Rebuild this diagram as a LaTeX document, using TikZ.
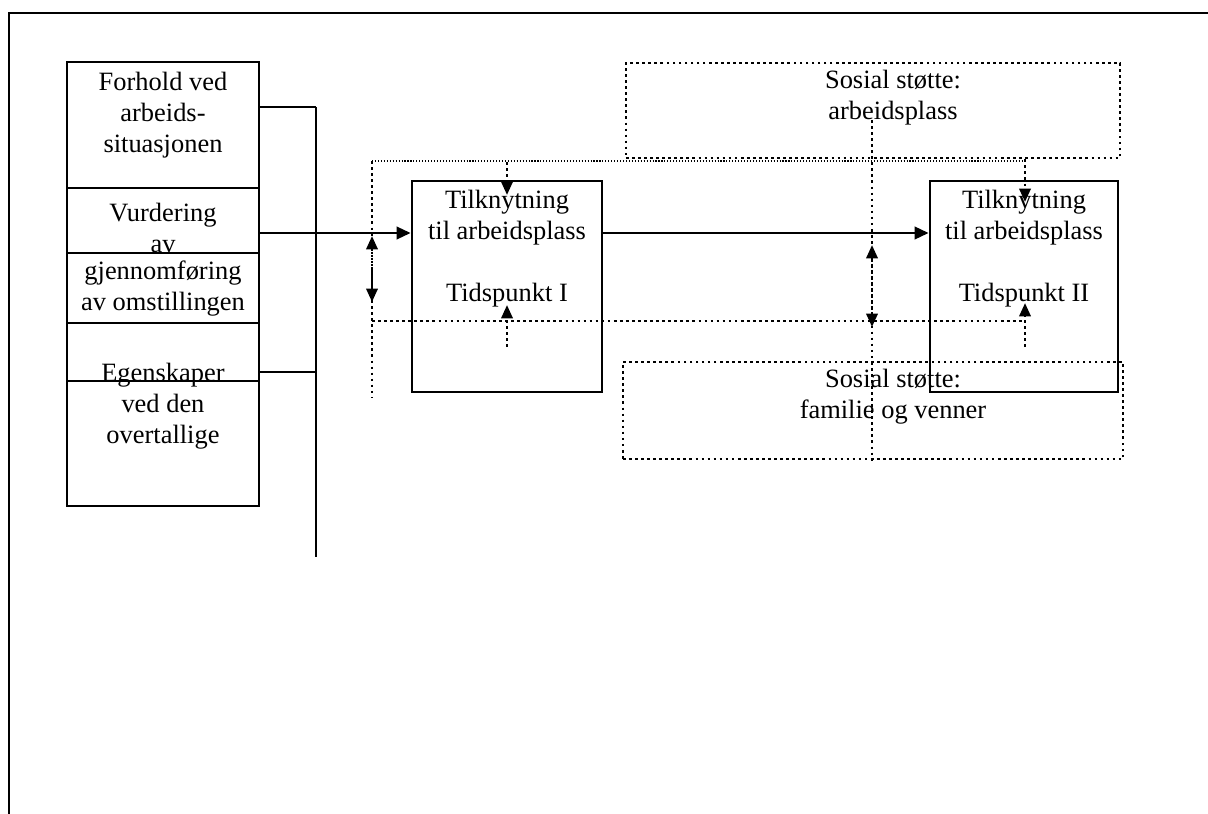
\documentclass[tikz,border=0pt]{standalone}
\usepackage{fontspec}
\setmainfont{Liberation Serif}
\usetikzlibrary{arrows.meta,positioning,calc}

\tikzset{
  solidbox/.style={draw, line width=2pt, inner sep=0pt},
  dotbox/.style={draw, line width=1.9pt, dash pattern=on 1.9pt off 2.4pt, inner sep=0pt},
  txt/.style={align=center, inner sep=0pt, font=\fontsize{18.8}{22}\selectfont},
  thinline/.style={line width=1.1pt},
  dotline/.style={line width=1.9pt, dash pattern=on 1.9pt off 2.4pt},
  finedots/.style={line width=0.8pt, dash pattern=on 0.8pt off 1.3pt},
  mainarrow/.style={line width=1.6pt, -{Triangle[length=10pt,width=9pt]}},
  dottip/.style={-{Triangle[length=9.5pt,width=8pt]}},
  dottips/.style={{Triangle[length=9.5pt,width=8pt]}-{Triangle[length=9.5pt,width=8pt]}}
}

\begin{document}
\begin{tikzpicture}[x=0.025cm, y=-0.025cm]
    \useasboundingbox (0,0) rectangle (1208,814);

    % Frame
    \draw[line width=2pt] (9,814) -- (9,13) -- (1208,13);

    % Left column
    \node[solidbox, minimum width=4.8cm, minimum height=3.15cm]  (forhold) at (163,125) {};
    \node[solidbox, minimum width=4.8cm, minimum height=1.625cm] (vurd)    at (163,220.5) {};
    \node[solidbox, minimum width=4.8cm, minimum height=1.75cm]  (gjenn)   at (163,288) {};
    \node[solidbox, minimum width=4.8cm, minimum height=1.45cm]  (egenA)   at (163,352) {};
    \node[solidbox, minimum width=4.8cm, minimum height=3.125cm] (egenB)   at (163,443.5) {};

    \node[txt] (forholdtxt) at (163,115) {Forhold ved\\arbeids-\\situasjonen};
    \node[txt] (vurdtxt)    at (163,228) {Vurdering\\av};
    \node[txt] (gjenntxt)   at (163,289) {gjennomføring\\av omstillingen};
    \node[txt] (egentxt)    at (163,406) {Egenskaper\\ved den\\overtallige};

    % Attachment boxes
    \node[solidbox, minimum width=4.75cm, minimum height=5.275cm] (tid1) at (507,286.5) {};
    \node[solidbox, minimum width=4.7cm,  minimum height=5.275cm] (tid2) at (1024,286.5) {};
    \node[txt] (tid1txt) at (507,249)  {Tilknytning\\til arbeidsplass\\[22pt]Tidspunkt I};
    \node[txt] (tid2txt) at (1024,249) {Tilknytning\\til arbeidsplass\\[22pt]Tidspunkt II};

    % Social support boxes
    \node[dotbox, minimum width=12.35cm, minimum height=2.375cm] (sosarb) at (873,110.5) {};
    \node[dotbox, minimum width=12.5cm,  minimum height=2.425cm] (sosfam) at (873,410.5) {};
    \node[txt] (sosarbtxt) at (893,98)  {Sosial støtte:\\arbeidsplass};
    \node[txt] (sosfamtxt) at (893,397) {Sosial støtte:\\familie og venner};

    % Joining lines from the left column
    \coordinate (jtop) at (316,107);
    \coordinate (jmid) at (316,233);
    \coordinate (jbot) at (316,372);
    \coordinate (jend) at (316,557);
    \draw[thinline] (forhold.east |- jtop) -- (jtop);
    \draw[thinline] (vurd.east |- jmid) -- (jmid);
    \draw[thinline] (egenA.east |- jbot) -- (jbot);
    \draw[thinline] (jtop) -- (jend);

    % Main arrows
    \draw[mainarrow] (jmid) -- (tid1.west |- jmid);
    \draw[mainarrow] (tid1.east |- jmid) -- (tid2.west |- jmid);

    % Dotted support lines
    \coordinate (dtl) at (372,161);
    \coordinate (dbl) at (372,397);
    \coordinate (dtr) at (1025,161);
    \coordinate (dll) at (372,321);
    \coordinate (dlr) at (1025,321);
    \coordinate (mtop) at (872,120);
    \coordinate (mbot) at (872,462);
    \draw[dotline] (dtl) -- (dbl);
    \draw[finedots] (dtl) -- (dtr);
    \draw[dotline] (dll) -- (dlr);
    \draw[dotline] (mtop) -- (mbot);

    % Dotted arrows
    \coordinate (lup) at (372,236);
    \coordinate (ldn) at (372,302);
    \coordinate (mup) at (872,245);
    \coordinate (mdn) at (872,327);
    \draw[dotline, dottips] (lup) -- (ldn);
    \draw[dotline, dottips] (mup) -- (mdn);

    \coordinate (t1top) at (507,162);
    \coordinate (t1in)  at (507,195);
    \coordinate (t1bot) at (507,347);
    \coordinate (t1up)  at (507,305);
    \draw[dotline, dottip] (t1top) -- (t1in);
    \draw[dotline, dottip] (t1bot) -- (t1up);

    \coordinate (t2in)  at (1025,202);
    \coordinate (t2bot) at (1025,347);
    \coordinate (t2up)  at (1025,303);
    \draw[dotline, dottip] (sosarb.south -| t2in) -- (t2in);
    \draw[dotline, dottip] (t2bot) -- (t2up);
\end{tikzpicture}
\end{document}
